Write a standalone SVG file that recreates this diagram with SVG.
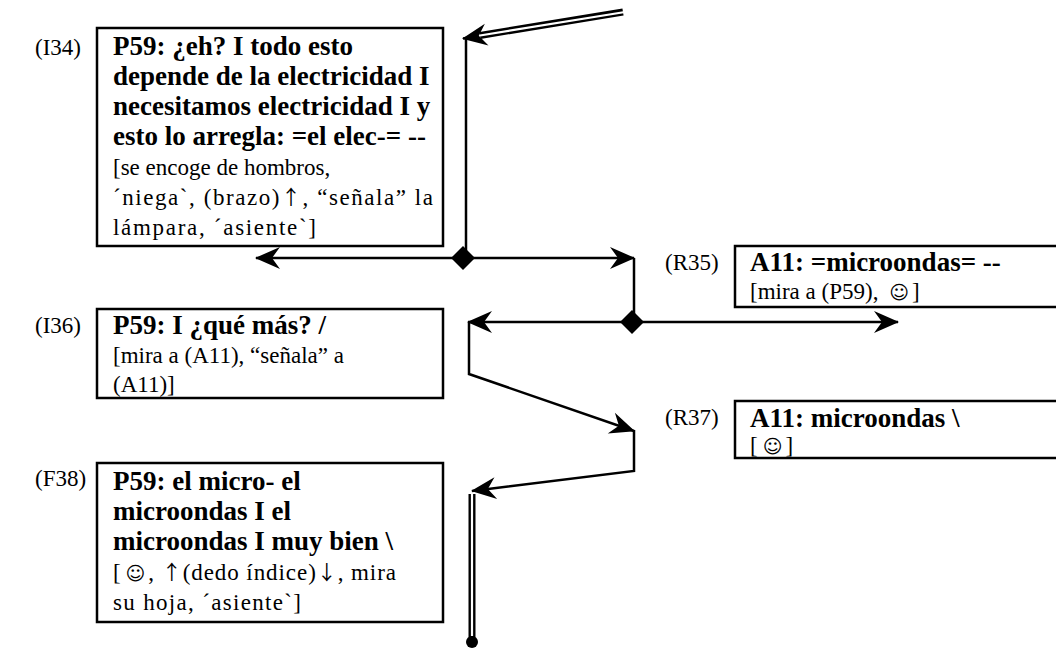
<svg xmlns="http://www.w3.org/2000/svg" width="1056" height="650" viewBox="0 0 1056 650">
  <style>
    text { font-family: "Liberation Serif", "DejaVu Serif", serif; font-size: 23px; fill: #000; }
    .b { font-weight: bold; font-size: 27px; }
    .sym { font-family: "DejaVu Sans", sans-serif; font-size: 19px; }
    .arw { font-family: "Noto Sans CJK JP", "DejaVu Sans", sans-serif; font-size: 20px; }
    .box { fill: #fff; stroke: #000; stroke-width: 2.5; }
    .ln { fill: none; stroke: #000; stroke-width: 2.5; }
    .dbl-outer { fill: none; stroke: #000; stroke-width: 7; }
    .dbl-inner { fill: none; stroke: #fff; stroke-width: 2.2; }
  </style>
  <defs>
    <marker id="arr" viewBox="-26 -12 28 24" refX="0" refY="0" markerWidth="28" markerHeight="24" markerUnits="userSpaceOnUse" orient="auto">
      <path d="M1,0 L-24,-11 L-16,0 L-24,11 Z" fill="#000"/>
    </marker>
    <polygon id="dia" points="0,-12 12,0 0,12 -12,0" fill="#000"/>
  </defs>

  <rect width="1056" height="650" fill="#fff"/>

  <!-- connectors -->
  <g id="connectors">
    <!-- incoming double arrow -->
    <line class="dbl-outer" x1="623" y1="12" x2="480" y2="35.5"/>
    <line class="dbl-inner" x1="625" y1="12" x2="480" y2="35.5"/>
    <line class="ln" x1="478" y1="36" x2="463" y2="38.5" marker-end="url(#arr)"/>
    <line class="ln" x1="466" y1="38" x2="466" y2="258"/>
    <!-- I34 split -->
    <line class="ln" x1="463" y1="258" x2="256" y2="258" marker-end="url(#arr)"/>
    <line class="ln" x1="463" y1="258" x2="634" y2="258" marker-end="url(#arr)"/>
    <use href="#dia" x="463" y="258"/>
    <line class="ln" x1="634" y1="258" x2="634" y2="322"/>
    <!-- R35 split -->
    <line class="ln" x1="632" y1="322" x2="468" y2="322" marker-end="url(#arr)"/>
    <line class="ln" x1="632" y1="322" x2="898" y2="322" marker-end="url(#arr)"/>
    <use href="#dia" x="632" y="322"/>
    <!-- I36 to R37 -->
    <polyline class="ln" points="469,322 469,374 634,431" marker-end="url(#arr)"/>
    <!-- R37 to F38 -->
    <polyline class="ln" points="634,430 634,471 472,491" marker-end="url(#arr)"/>
    <!-- outgoing double line -->
    <line class="dbl-outer" x1="472" y1="494" x2="472" y2="640"/>
    <line class="dbl-inner" x1="472" y1="494" x2="472" y2="636"/>
    <circle cx="472" cy="642" r="6" fill="#000"/>
  </g>

  <g id="I34">
    <text x="35" y="55">(I34)</text>
    <rect class="box" x="97" y="28" width="346" height="218"/>
    <text class="b" x="113" y="55">P59: ¿eh? I todo esto</text>
    <text class="b" x="113" y="85">depende de la electricidad I</text>
    <text class="b" x="113" y="115">necesitamos electricidad I y</text>
    <text class="b" x="113" y="145">esto lo arregla: =el elec-= --</text>
    <text x="113" y="175">[se encoge de hombros,</text>
    <text x="113" y="205" textLength="320" lengthAdjust="spacing">´niega`, (brazo)<tspan class="arw">↑</tspan>, “señala” la</text>
    <text x="113" y="235" textLength="203" lengthAdjust="spacing">lámpara, ´asiente`]</text>
  </g>

  <g id="R35">
    <text x="665" y="270">(R35)</text>
    <rect class="box" x="735" y="246" width="340" height="61"/>
    <text class="b" x="750" y="271">A11: =microondas= --</text>
    <text x="750" y="299">[mira a (P59), <tspan class="sym" dx="5">☺</tspan><tspan dx="3">]</tspan></text>
  </g>

  <g id="I36">
    <text x="35" y="333">(I36)</text>
    <rect class="box" x="97" y="309" width="346" height="89"/>
    <text class="b" x="113" y="334">P59: I ¿qué más? /</text>
    <text x="113" y="363">[mira a (A11), “señala” a</text>
    <text x="113" y="392">(A11)]</text>
  </g>

  <g id="R37">
    <text x="665" y="425">(R37)</text>
    <rect class="box" x="735" y="401" width="340" height="57"/>
    <text class="b" x="750" y="427">A11: microondas \</text>
    <text x="750" y="453">[<tspan class="sym" dx="5">☺</tspan><tspan dx="3">]</tspan></text>
  </g>

  <g id="F38">
    <text x="35" y="486">(F38)</text>
    <rect class="box" x="97" y="463" width="346" height="159"/>
    <text class="b" x="113" y="490">P59: el micro- el</text>
    <text class="b" x="113" y="520">microondas I el</text>
    <text class="b" x="113" y="550">microondas I muy bien \</text>
    <text x="113" y="580" textLength="283" lengthAdjust="spacing">[<tspan class="sym" dx="4">☺</tspan><tspan dx="2">,</tspan> <tspan class="arw">↑</tspan>(dedo índice)<tspan class="arw">↓</tspan>, mira</text>
    <text x="113" y="610" textLength="188" lengthAdjust="spacing">su hoja, ´asiente`]</text>
  </g>
</svg>
